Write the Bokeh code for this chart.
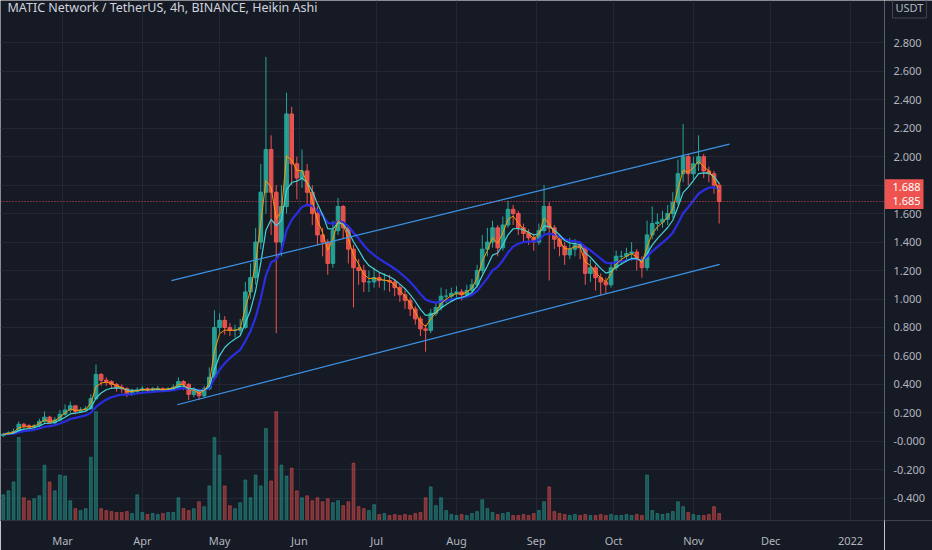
import pandas as pd
from bokeh.plotting import figure
from bokeh.layouts import row
from bokeh.models import (FixedTicker, CustomJSTickFormatter, Range1d, Label, Span,
                          ColumnDataSource, Grid)
from bokeh.core.properties import value
from bokeh.embed import file_html
from bokeh.resources import INLINE

# ---------------- data ----------------
title_text = "MATIC Network / TetherUS, 4h, BINANCE, Heikin Ashi"
start_date = "2021-02-06"          # first 2-day candle
first_open = 0.04

closes = [0.05, 0.06, 0.07, 0.12, 0.11, 0.10, 0.11, 0.14, 0.17, 0.13,
          0.15, 0.19, 0.22, 0.25, 0.21, 0.22, 0.23, 0.30, 0.47, 0.43,
          0.42, 0.40, 0.38, 0.37, 0.33, 0.35, 0.36, 0.37, 0.36, 0.37,
          0.37, 0.36, 0.37, 0.38, 0.42, 0.40, 0.33, 0.36, 0.32, 0.37,
          0.45, 0.80, 0.85, 0.80, 0.78, 0.78, 0.80, 1.05, 1.15, 1.40,
          1.75, 2.05, 1.75, 1.40, 1.65, 2.30, 1.95, 1.85, 1.90, 1.75,
          1.60, 1.45, 1.40, 1.25, 1.48, 1.65, 1.50, 1.35, 1.22, 1.20,
          1.12, 1.12, 1.15, 1.13, 1.13, 1.12, 1.08, 1.03, 0.99, 0.93,
          0.86, 0.79, 0.78, 0.90, 0.94, 1.02, 1.02, 1.04, 1.05, 1.03,
          1.06, 1.10, 1.20, 1.35, 1.40, 1.50, 1.36, 1.52, 1.63, 1.60,
          1.50, 1.46, 1.43, 1.40, 1.48, 1.65, 1.50, 1.42, 1.37, 1.31,
          1.35, 1.38, 1.36, 1.18, 1.22, 1.15, 1.12, 1.10, 1.22, 1.30,
          1.30, 1.32, 1.33, 1.28, 1.22, 1.45, 1.53, 1.54, 1.56, 1.60,
          1.68, 1.88, 2.00, 1.88, 1.95, 2.00, 1.90, 1.88, 1.80, 1.685]

highs = [0.06, 0.07, 0.09, 0.14, 0.13, 0.12, 0.12, 0.16, 0.21, 0.18,
         0.17, 0.22, 0.26, 0.28, 0.25, 0.24, 0.25, 0.33, 0.54, 0.48,
         0.45, 0.43, 0.41, 0.40, 0.38, 0.37, 0.38, 0.39, 0.38, 0.38,
         0.39, 0.38, 0.38, 0.40, 0.45, 0.43, 0.41, 0.38, 0.37, 0.39,
         0.52, 0.92, 0.90, 0.88, 0.83, 0.82, 0.86, 1.12, 1.25, 1.50,
         1.95, 2.70, 2.15, 1.80, 1.80, 2.45, 2.35, 2.00, 2.05, 1.95,
         1.80, 1.65, 1.50, 1.42, 1.55, 1.71, 1.66, 1.52, 1.38, 1.28,
         1.24, 1.20, 1.22, 1.19, 1.18, 1.17, 1.14, 1.10, 1.06, 1.01,
         0.95, 0.88, 0.82, 0.93, 0.98, 1.08, 1.07, 1.08, 1.09, 1.07,
         1.10, 1.14, 1.24, 1.45, 1.50, 1.55, 1.52, 1.58, 1.69, 1.66,
         1.62, 1.53, 1.49, 1.46, 1.53, 1.80, 1.68, 1.52, 1.45, 1.40,
         1.43, 1.42, 1.40, 1.37, 1.28, 1.24, 1.18, 1.15, 1.26, 1.34,
         1.34, 1.36, 1.40, 1.35, 1.30, 1.55, 1.65, 1.60, 1.62, 1.66,
         1.75, 1.98, 2.23, 2.02, 2.00, 2.15, 2.02, 1.93, 1.90, 1.82]

lows = [0.03, 0.045, 0.055, 0.07, 0.09, 0.09, 0.09, 0.10, 0.13, 0.12,
        0.12, 0.14, 0.18, 0.20, 0.19, 0.20, 0.21, 0.22, 0.29, 0.39,
        0.39, 0.37, 0.35, 0.34, 0.31, 0.32, 0.34, 0.35, 0.34, 0.35,
        0.35, 0.35, 0.35, 0.36, 0.37, 0.36, 0.29, 0.31, 0.29, 0.31,
        0.36, 0.44, 0.76, 0.75, 0.74, 0.73, 0.75, 0.79, 1.00, 1.10,
        1.35, 1.60, 1.45, 0.76, 1.30, 1.60, 1.80, 1.70, 1.78, 1.65,
        1.52, 1.38, 1.30, 1.17, 1.22, 1.45, 1.42, 1.25, 0.94, 1.10,
        1.05, 1.05, 1.08, 1.08, 1.06, 1.05, 1.02, 0.98, 0.93, 0.88,
        0.82, 0.74, 0.63, 0.76, 0.88, 0.92, 0.97, 0.99, 1.00, 0.99,
        1.01, 1.04, 1.08, 1.18, 1.30, 1.36, 1.30, 1.34, 1.50, 1.52,
        1.45, 1.40, 1.38, 1.34, 1.38, 1.46, 1.13, 1.35, 1.30, 1.24,
        1.28, 1.30, 1.28, 1.10, 1.12, 1.06, 1.03, 1.04, 1.08, 1.20,
        1.24, 1.26, 1.27, 1.20, 1.15, 1.20, 1.42, 1.48, 1.50, 1.52,
        1.57, 1.66, 1.82, 1.80, 1.84, 1.90, 1.85, 1.82, 1.74, 1.53]

volumes = [26, 30, 39, 84, 23, 20, 22, 25, 56, 39,
           30, 46, 45, 20, 12, 10, 12, 64, 110, 12,
           10, 9, 8, 8, 9, 7, 26, 8, 6, 7,
           6, 7, 8, 8, 23, 12, 10, 12, 19, 14,
           35, 84, 66, 35, 15, 12, 18, 41, 23, 46,
           35, 93, 40, 110, 56, 45, 53, 30, 23, 25,
           20, 23, 19, 22, 18, 20, 15, 19, 58, 14,
           12, 10, 16, 6, 7, 5, 6, 5, 6, 5,
           7, 8, 23, 34, 15, 23, 10, 6, 5, 6,
           5, 7, 9, 21, 12, 8, 6, 7, 8, 5,
           5, 6, 5, 7, 10, 19, 34, 9, 7, 6,
           5, 6, 5, 6, 5, 5, 6, 5, 6, 5,
           5, 6, 5, 6, 5, 46, 10, 7, 6, 7,
           9, 19, 14, 8, 6, 5, 5, 6, 14, 7]

ema_spans = {"fast": 2.5, "mid": 6.0, "slow": 12.0}

trend_upper_dates = ["2021-04-12 07:00", "2021-11-15 00:00"]
trend_upper_values = [1.129, 2.088]
trend_lower_dates = ["2021-04-14 14:00", "2021-11-11 05:00"]
trend_lower_values = [0.257, 1.243]

last_close = 1.685
last_value_labels = ["1.688", "1.685"]

price_ticks = [-0.4, -0.2, 0.0, 0.2, 0.4, 0.6, 0.8, 1.0, 1.2, 1.4, 1.6, 1.8,
               2.0, 2.2, 2.4, 2.6, 2.8]
price_tick_labels = ["-0.400", "-0.200", "-0.000", "0.200", "0.400", "0.600",
                     "0.800", "1.000", "1.200", "1.400", "1.600", "",
                     "2.000", "2.200", "2.400", "2.600", "2.800"]
month_ticks = ["2021-03-01", "2021-04-01", "2021-05-01", "2021-06-01", "2021-07-01",
               "2021-08-01", "2021-09-01", "2021-10-01", "2021-11-01", "2021-12-01",
               "2022-01-01"]
month_labels = ["Mar", "Apr", "May", "Jun", "Jul", "Aug", "Sep", "Oct", "Nov",
                "Dec", "2022"]
currency_label = "USDT"

# ---------------- styling / layout ----------------
BG = "#161a25"
GRID = "#232734"
AXIS = "#2e323e"
TXT = "#b2b5be"
UP = "#26a69a"
DOWN = "#ef5350"
FONT = "Noto Sans"

W, H = 932, 550
SCALE_W, BOTTOM = 48, 24
MAIN_W = W - SCALE_W
FRAME_H = H - BOTTOM
Y_START, Y_END = -0.556, 3.097
BOX_H = 0.104          # height of a price tag, in price units (about 15 px)

DAY_MS = 86400000

# ---------------- derived ----------------
dates = pd.date_range(start_date, periods=len(closes), freq="2D")
opens = [first_open] + closes[:-1]
colors = [UP if c >= o else DOWN for o, c in zip(opens, closes)]
close_s = pd.Series(closes)
ema_fast = close_s.ewm(span=ema_spans["fast"], adjust=False).mean()
ema_mid = close_s.ewm(span=ema_spans["mid"], adjust=False).mean()
ema_slow = close_s.ewm(span=ema_spans["slow"], adjust=False).mean()

src = ColumnDataSource(dict(
    date=dates, open=opens, close=closes, high=highs, low=lows,
    top=[max(o, c) for o, c in zip(opens, closes)],
    bottom=[min(o, c) for o, c in zip(opens, closes)],
    vol=volumes, color=colors,
    ema_fast=ema_fast, ema_mid=ema_mid, ema_slow=ema_slow,
))

x_start = pd.Timestamp("2021-02-04 22:00")
x_end = pd.Timestamp("2022-01-14 05:00")
y_rng = Range1d(Y_START, Y_END)

# ---------------- main chart ----------------
p = figure(width=MAIN_W, height=H, x_axis_type="datetime", y_axis_location=None,
           x_range=Range1d(x_start, x_end), y_range=y_rng,
           output_backend="svg", toolbar_location=None,
           background_fill_color=BG, border_fill_color=BG,
           min_border_left=0, min_border_top=0, min_border_right=0,
           min_border_bottom=BOTTOM)
p.outline_line_color = None
p.extra_y_ranges = {"vol": Range1d(0, 526)}

for g in p.ygrid:
    g.visible = False
p.add_layout(Grid(dimension=1, ticker=FixedTicker(ticks=price_ticks),
                  grid_line_color=GRID))

# volume
p.vbar(x="date", top="vol", bottom=0, width=1.1 * DAY_MS, color="color",
       alpha=0.45, y_range_name="vol", source=src)

# candles
p.segment(x0="date", y0="high", x1="date", y1="low", color="color",
          line_width=1, source=src)
p.vbar(x="date", top="top", bottom="bottom", width=1.4 * DAY_MS,
       fill_color="color", line_color="color", fill_alpha=0.9, source=src)

# moving averages
p.line("date", "ema_slow", color="#2a2de0", line_width=2.2, source=src)
p.line("date", "ema_mid", color="#46d3d6", line_width=1.2, source=src)
p.line("date", "ema_fast", color="#ff9800", line_width=1, source=src)

# channel trend lines
p.line(pd.to_datetime(trend_upper_dates), trend_upper_values, color="#3d93e6",
       line_width=1.2)
p.line(pd.to_datetime(trend_lower_dates), trend_lower_values, color="#3d93e6",
       line_width=1.2)

# last price line
p.add_layout(Span(location=last_close, dimension="width", line_color=DOWN,
                  line_dash="1 2", line_width=1, line_alpha=0.9))

month_ms = [pd.Timestamp(d).value // 10**6 for d in month_ticks]
xax = p.xaxis[0]
xax.ticker = FixedTicker(ticks=month_ms)
xax.formatter = CustomJSTickFormatter(args=dict(labels=month_labels, ticks_v=month_ms),
    code="""
    for (let i = 0; i < ticks_v.length; i++) {
        if (Math.abs(ticks_v[i] - tick) < 1) return labels[i];
    }
    return "";
""")
xax.axis_line_color = AXIS
xax.major_tick_line_color = None
xax.minor_tick_line_color = None
xax.major_label_text_color = TXT
xax.major_label_text_font = FONT
xax.major_label_text_font_size = "11px"
xax.major_label_standoff = 6
p.xgrid.ticker = FixedTicker(ticks=month_ms)
p.xgrid.grid_line_color = GRID

p.add_layout(Label(x=7, y=FRAME_H - 13, x_units="screen", y_units="screen",
                   text=title_text, text_color="#d1d4dc", text_font=FONT,
                   text_font_size="12.5px", text_baseline="middle"))

# ---------------- price scale column ----------------
s = figure(width=SCALE_W, height=H, x_range=Range1d(0, SCALE_W), y_range=y_rng,
           x_axis_location=None, y_axis_location=None,
           output_backend="svg", toolbar_location=None,
           background_fill_color=BG, border_fill_color=BG,
           min_border_left=0, min_border_top=0, min_border_right=0,
           min_border_bottom=BOTTOM)
s.outline_line_color = None
s.grid.visible = False

s.add_layout(Span(location=0, dimension="height", line_color=AXIS, line_width=1))
s.add_layout(Span(location=Y_START, dimension="width", line_color=AXIS, line_width=1))

s.text(x=[9] * len(price_ticks), y=price_ticks, text=price_tick_labels,
       text_color=TXT, text_font=value(FONT), text_font_size="11px",
       text_baseline="middle", text_align="left")

tag_centers = [last_close + BOX_H, last_close]
s.quad(left=0, right=39, bottom=[c - BOX_H / 2 for c in tag_centers],
       top=[c + BOX_H / 2 for c in tag_centers], fill_color=DOWN, line_color=None)
s.text(x=[8, 8], y=tag_centers, text=last_value_labels, text_color="white",
       text_font=value(FONT), text_font_size="11px", text_baseline="middle",
       text_align="left")

s.add_layout(Label(x=8, y=FRAME_H - 13, x_units="screen", y_units="screen",
                   text=currency_label, text_color=TXT, text_font=FONT,
                   text_font_size="11px", text_baseline="middle",
                   border_line_color="#434651", border_line_width=1,
                   padding=3))

layout = row(p, s, spacing=0)
open("out.html", "w").write(file_html(layout, INLINE))
